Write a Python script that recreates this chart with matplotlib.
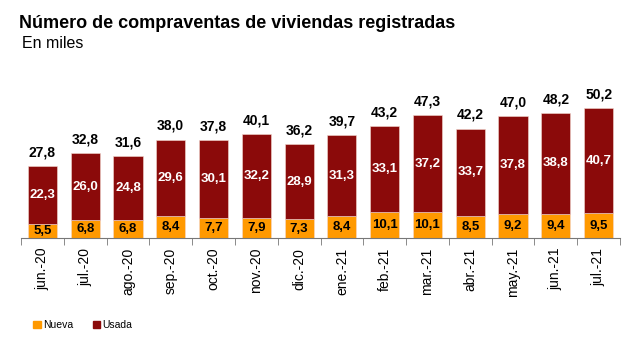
import numpy as np
import matplotlib
matplotlib.use("Agg")
import matplotlib.pyplot as plt
from matplotlib.patches import Patch

plt.rcParams["font.family"] = ["Liberation Sans", "DejaVu Sans"]

# ── Data (miles de compraventas) ─────────────────────────────────────────────
meses = ["jun.-20", "jul.-20", "ago.-20", "sep.-20", "oct.-20", "nov.-20",
         "dic.-20", "ene.-21", "feb.-21", "mar.-21", "abr.-21", "may.-21",
         "jun.-21", "jul.-21"]
nueva = [5.5, 6.8, 6.8, 8.4, 7.7, 7.9, 7.3, 8.4, 10.1, 10.1, 8.5, 9.2, 9.4, 9.5]
usada = [22.3, 26.0, 24.8, 29.6, 30.1, 32.2, 28.9, 31.3, 33.1, 37.2, 33.7,
         37.8, 38.8, 40.7]
total = [27.8, 32.8, 31.6, 38.0, 37.8, 40.1, 36.2, 39.7, 43.2, 47.3, 42.2,
         47.0, 48.2, 50.2]

C_NUEVA = "#FF9900"
C_USADA = "#8B0A0A"

def fmt(v):
    return f"{v:.1f}".replace(".", ",")

fig = plt.figure(figsize=(6.43, 3.47), dpi=100)
ax = fig.add_axes([21 / 643, 109 / 347, 599 / 643, 160 / 347])

x = np.arange(len(meses))
w = 0.68
ax.bar(x, nueva, w, color=C_NUEVA, edgecolor="#f4d9d0", linewidth=0.4)
ax.bar(x, usada, w, bottom=nueva, color=C_USADA, edgecolor="#f4d9d0", linewidth=0.4)

for i in range(len(meses)):
    ax.text(x[i], nueva[i] / 2, fmt(nueva[i]), ha="center", va="center",
            fontsize=9.5, fontweight="bold", color="black")
    ax.text(x[i], nueva[i] + usada[i] / 2, fmt(usada[i]), ha="center",
            va="center", fontsize=9.5, fontweight="bold", color="white")
    ax.annotate(fmt(total[i]), (x[i], nueva[i] + usada[i]),
                xytext=(0, 5), textcoords="offset points", ha="center",
                va="bottom", fontsize=10, fontweight="bold", color="black")

ax.set_xlim(-0.5, len(meses) - 0.5)
ax.set_ylim(0, 160 / 2.59)
ax.set_xticks(x)
ax.set_xticklabels(meses, rotation=90, fontsize=10)
ax.set_xticks(np.arange(-0.5, len(meses)), minor=True)
ax.tick_params(axis="x", which="major", length=0, pad=7)
ax.tick_params(axis="x", which="minor", length=5, color="#777777")
ax.set_yticks([])
for s in ["left", "right", "top"]:
    ax.spines[s].set_visible(False)
ax.spines["bottom"].set_color("#777777")

fig.text(19 / 643, 1 - 24 / 347, "Número de compraventas de viviendas registradas",
         fontsize=13, fontweight="bold", va="center", ha="left")
fig.text(22 / 643, 1 - 44 / 347, "En miles", fontsize=11.5, va="center", ha="left")

handles = [Patch(color=C_NUEVA, label="Nueva"), Patch(color=C_USADA, label="Usada")]
fig.legend(handles=handles, loc="center left", bbox_to_anchor=(24 / 643, 1 - 325 / 347),
           ncol=2, frameon=False, fontsize=7.5, handlelength=0.7, handleheight=0.7,
           handletextpad=0.2, columnspacing=1.9)

fig.savefig("out.png", dpi=100)
